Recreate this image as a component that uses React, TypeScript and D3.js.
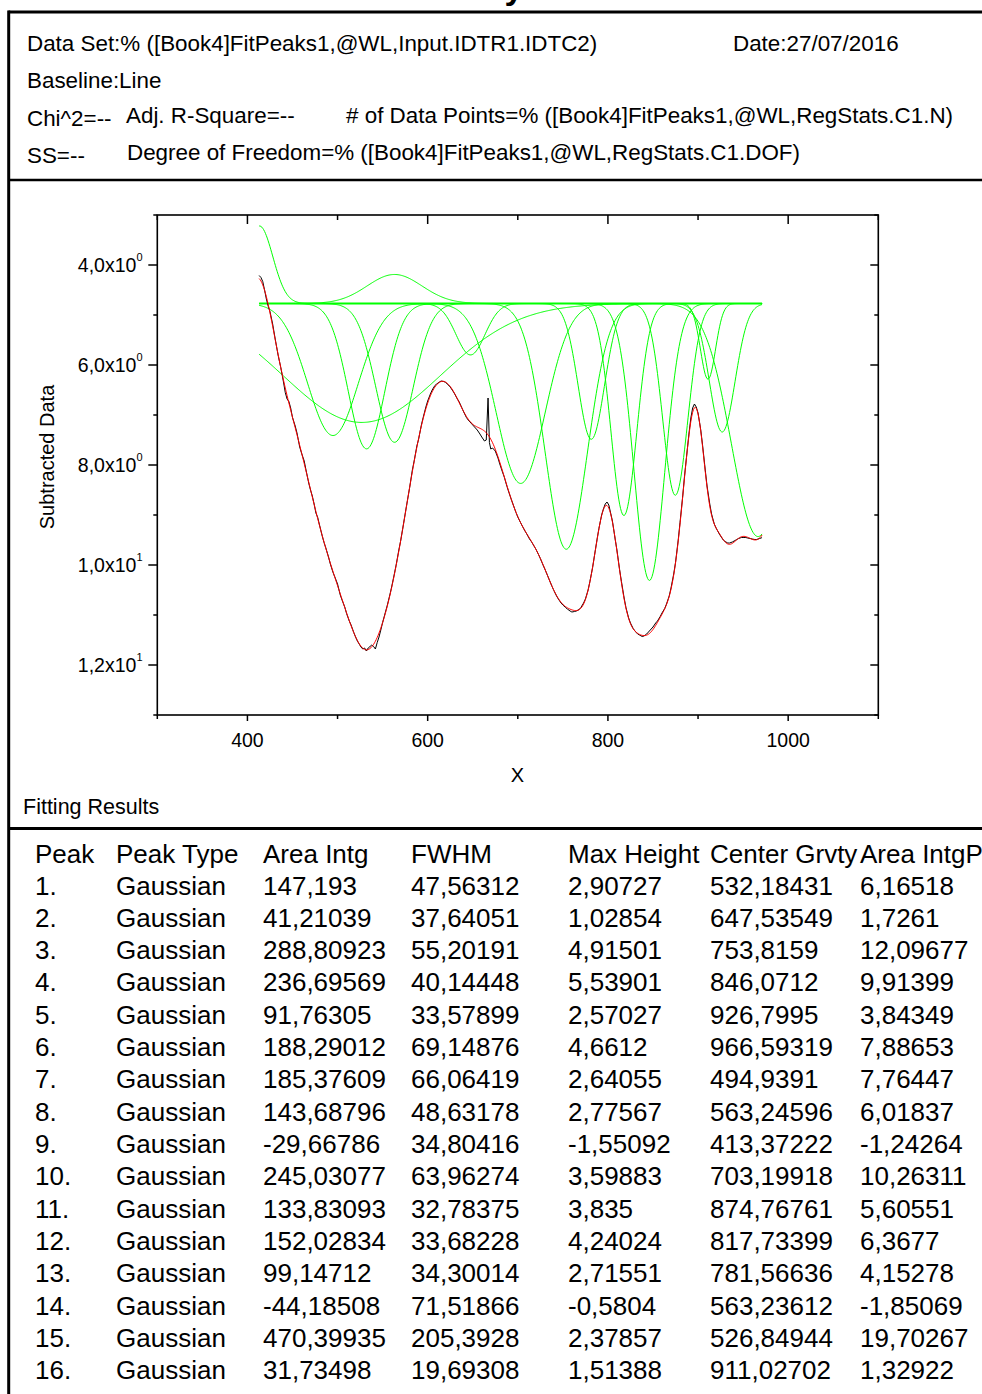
import React from "react";
import * as d3 from "d3";

const peakLabels = ["1.", "2.", "3.", "4.", "5.", "6.", "7.", "8.", "9.", "10.", "11.", "12.", "13.", "14.", "15.", "16."];
const peakTypes = ["Gaussian", "Gaussian", "Gaussian", "Gaussian", "Gaussian", "Gaussian", "Gaussian", "Gaussian", "Gaussian", "Gaussian", "Gaussian", "Gaussian", "Gaussian", "Gaussian", "Gaussian", "Gaussian"];
const areaIntg = [147.193, 41.21039, 288.80923, 236.69569, 91.76305, 188.29012, 185.37609, 143.68796, -29.66786, 245.03077, 133.83093, 152.02834, 99.14712, -44.18508, 470.39935, 31.73498];
const fwhm = [47.56312, 37.64051, 55.20191, 40.14448, 33.57899, 69.14876, 66.06419, 48.63178, 34.80416, 63.96274, 32.78375, 33.68228, 34.30014, 71.51866, 205.3928, 19.69308];
const maxHeight = [2.90727, 1.02854, 4.91501, 5.53901, 2.57027, 4.6612, 2.64055, 2.77567, -1.55092, 3.59883, 3.835, 4.24024, 2.71551, -0.5804, 2.37857, 1.51388];
const centerGrvty = [532.18431, 647.53549, 753.8159, 846.0712, 926.7995, 966.59319, 494.9391, 563.24596, 413.37222, 703.19918, 874.76761, 817.73399, 781.56636, 563.23612, 526.84944, 911.02702];
const areaIntgP = [6.16518, 1.7261, 12.09677, 9.91399, 3.84349, 7.88653, 7.76447, 6.01837, -1.24264, 10.26311, 5.60551, 6.3677, 4.15278, -1.85069, 19.70267, 1.32922];
const tableHeaders = ["Peak", "Peak Type", "Area Intg", "FWHM", "Max Height", "Center Grvty", "Area IntgP"];

// ---- Fit settings ----
const baselineValue = 4.77;
const dataRange = [413, 971];

const dataX = [413, 415, 417, 419, 421, 423, 425, 428, 431, 434, 437, 440, 442, 444, 446, 448, 450, 453, 455, 458, 460, 463, 465, 468, 470, 472, 474, 476, 478, 480, 483, 485, 487, 490, 492, 495, 497, 500, 503, 505, 508, 510, 513, 515, 518, 520, 522, 524, 526, 528, 530, 532, 534, 536, 538, 540, 542, 544, 546, 548, 550, 553, 555, 558, 560, 563, 565, 568, 570, 573, 575, 578, 580, 583, 585, 588, 590, 593, 595, 598, 600, 603, 605, 608, 610, 613, 615, 618, 620, 623, 625, 628, 630, 633, 635, 638, 640, 643, 645, 648, 650, 653, 655, 658, 660, 663, 665, 667, 668.5, 670, 672, 675, 678, 680, 683, 685, 688, 690, 693, 695, 698, 700, 703, 705, 708, 710, 713, 715, 718, 720, 723, 725, 728, 730, 733, 735, 738, 740, 743, 745, 748, 750, 753, 755, 758, 760, 763, 765, 768, 770, 773, 775, 778, 780, 783, 785, 788, 790, 793, 795, 797, 799, 801, 803, 805, 808, 810, 813, 815, 818, 820, 823, 825, 828, 830, 833, 835, 838, 840, 843, 845, 848, 850, 853, 855, 858, 860, 863, 865, 868, 870, 873, 875, 878, 880, 883, 885, 888, 890, 892, 894, 896, 898, 900, 903, 905, 908, 910, 913, 915, 918, 920, 923, 925, 928, 930, 933, 935, 938, 940, 943, 945, 948, 950, 953, 955, 958, 960, 963, 965, 968, 970, 971];
const dataY = [4.21, 4.25, 4.33, 4.50, 4.68, 4.82, 4.93, 5.18, 5.50, 5.80, 6.05, 6.34, 6.55, 6.68, 6.73, 6.86, 7.05, 7.22, 7.36, 7.64, 7.76, 7.92, 8.10, 8.36, 8.50, 8.62, 8.78, 8.96, 9.05, 9.20, 9.42, 9.55, 9.66, 9.84, 9.98, 10.15, 10.24, 10.38, 10.60, 10.70, 10.84, 10.97, 11.12, 11.20, 11.35, 11.44, 11.52, 11.58, 11.64, 11.68, 11.66, 11.72, 11.66, 11.63, 11.60, 11.63, 11.68, 11.55, 11.44, 11.30, 11.15, 10.95, 10.82, 10.60, 10.44, 10.18, 10.00, 9.70, 9.52, 9.20, 8.98, 8.66, 8.45, 8.10, 7.92, 7.62, 7.48, 7.20, 7.05, 6.84, 6.72, 6.58, 6.50, 6.41, 6.38, 6.34, 6.32, 6.33, 6.35, 6.40, 6.44, 6.52, 6.58, 6.68, 6.74, 6.86, 6.94, 7.05, 7.10, 7.16, 7.20, 7.26, 7.30, 7.38, 7.44, 7.52, 7.50, 6.66, 7.55, 7.68, 7.66, 7.72, 7.86, 7.98, 8.14, 8.24, 8.43, 8.54, 8.70, 8.80, 8.95, 9.04, 9.15, 9.22, 9.32, 9.38, 9.48, 9.53, 9.62, 9.68, 9.79, 9.87, 10.00, 10.08, 10.21, 10.30, 10.43, 10.51, 10.62, 10.68, 10.76, 10.80, 10.85, 10.88, 10.92, 10.94, 10.93, 10.92, 10.89, 10.85, 10.76, 10.68, 10.50, 10.33, 10.05, 9.82, 9.48, 9.27, 9.00, 8.88, 8.78, 8.74, 8.80, 8.96, 9.12, 9.48, 9.70, 10.10, 10.33, 10.66, 10.85, 11.06, 11.16, 11.27, 11.32, 11.38, 11.40, 11.43, 11.42, 11.38, 11.34, 11.28, 11.24, 11.16, 11.12, 11.03, 10.96, 10.87, 10.78, 10.62, 10.46, 10.18, 9.95, 9.50, 9.15, 8.62, 8.22, 7.70, 7.36, 7.06, 6.86, 6.78, 6.84, 6.96, 7.30, 7.60, 8.10, 8.42, 8.78, 8.98, 9.18, 9.26, 9.36, 9.42, 9.50, 9.53, 9.56, 9.56, 9.54, 9.52, 9.49, 9.47, 9.45, 9.45, 9.45, 9.46, 9.47, 9.48, 9.49, 9.49, 9.47, 9.46, 9.45];

// ---- Axis ticks ----
const xMajorTicks = [400, 600, 800, 1000];
const xMinorTicks = [300, 500, 700, 900, 1100];
const yMajorTicks = [4, 6, 8, 10, 12];
const yMinorTicks = [3, 5, 7, 9, 11, 13];
const yTickMantissa = ["4,0", "6,0", "8,0", "1,0", "1,2"];
const yTickExponent = ["0", "0", "0", "1", "1"];

const FONT = "'Liberation Sans', Arial, Helvetica, sans-serif";
const W = 982;
const H = 1394;

const gauss = (xv: number, i: number) =>
  maxHeight[i] * Math.exp((-4 * Math.LN2 * (xv - centerGrvty[i]) ** 2) / fwhm[i] ** 2);

export default function App() {
  const x = d3.scaleLinear().domain([300, 1100]).range([157.3, 878.3]);
  const y = d3.scaleLinear().domain([3, 13]).range([215, 715]);
  const xs = d3.range(dataRange[0], dataRange[1] + 0.01, 1);
  const line = d3.line<[number, number]>().x((d) => x(d[0])).y((d) => y(d[1]));

  const peakPaths = centerGrvty.map((_, i) => line(xs.map((xv) => [xv, baselineValue + gauss(xv, i)])) || "");
  const fitPath = line(xs.map((xv) => [xv, baselineValue + centerGrvty.reduce((s, _, i) => s + gauss(xv, i), 0)])) || "";
  const basePath = line(xs.map((xv) => [xv, baselineValue])) || "";
  const dataPath = line(dataX.map((xv, i) => [xv, dataY[i]])) || "";

  const fmt = (v: number) => String(v).replace(".", ",");
  const colX = [35, 116, 263, 411, 568, 710, 860];
  const rows = peakLabels.map((p, i) => [p, peakTypes[i], fmt(areaIntg[i]), fmt(fwhm[i]), fmt(maxHeight[i]), fmt(centerGrvty[i]), fmt(areaIntgP[i])]);

  const [x0, x1] = x.range();
  const [y0, y1] = y.range();

  return (
    <div style={{ position: "absolute", left: 0, top: 0, width: W, height: H, background: "#fff" }}>
      <svg width={W} height={H} style={{ display: "block" }} fontFamily={FONT}>
        <rect x={0} y={0} width={W} height={H} fill="#fff" />
        {/* title (cut off at top of the page) */}
        <text x={457} y={-1} textAnchor="middle" fontSize={34} fontWeight="bold">Peak Analysis</text>
        {/* frame lines */}
        <line x1={8.5} x2={W} y1={12} y2={12} stroke="#000" strokeWidth={3} />
        <line x1={8.7} x2={8.7} y1={10.5} y2={H} stroke="#000" strokeWidth={3} />
        <line x1={8.5} x2={W} y1={180} y2={180} stroke="#000" strokeWidth={2.5} />
        <line x1={8.5} x2={W} y1={828.5} y2={828.5} stroke="#000" strokeWidth={3} />

        {/* header texts */}
        <g fontSize={22.4} fill="#000">
          <text x={27} y={51}>Data Set:% ([Book4]FitPeaks1,@WL,Input.IDTR1.IDTC2)</text>
          <text x={733} y={51}>Date:27/07/2016</text>
          <text x={27} y={88}>Baseline:Line</text>
          <text x={27} y={126}>Chi^2=--</text>
          <text x={126} y={123}>Adj. R-Square=--</text>
          <text x={346} y={123}># of Data Points=% ([Book4]FitPeaks1,@WL,RegStats.C1.N)</text>
          <text x={27} y={163}>SS=--</text>
          <text x={127} y={160}>Degree of Freedom=% ([Book4]FitPeaks1,@WL,RegStats.C1.DOF)</text>
        </g>

        {/* plot */}
        <defs>
          <clipPath id="plotclip">
            <rect x={x0} y={y0} width={x1 - x0} height={y1 - y0} />
          </clipPath>
        </defs>
        <g clipPath="url(#plotclip)" fill="none">
          <path d={basePath} stroke="#00ff00" strokeWidth={2} />
          {peakPaths.map((d, i) => (
            <path key={i} d={d} stroke="#00ff00" strokeWidth={1} />
          ))}
          <path d={dataPath} stroke="#000" strokeWidth={1} />
          <path d={fitPath} stroke="#ff0000" strokeWidth={1} />
        </g>
        <rect x={x0} y={y0} width={x1 - x0} height={y1 - y0} fill="none" stroke="#000" strokeWidth={1.6} />
        {/* x ticks */}
        {xMajorTicks.map((t) => (
          <g key={"xm" + t}>
            <line x1={x(t)} x2={x(t)} y1={y1} y2={y1 + 6} stroke="#000" strokeWidth={1.5} />
            <line x1={x(t)} x2={x(t)} y1={y0} y2={y0 + 9} stroke="#000" strokeWidth={1.5} />
            <text x={x(t)} y={747} textAnchor="middle" fontSize={19.5}>{t}</text>
          </g>
        ))}
        {xMinorTicks.map((t) => (
          <g key={"xn" + t}>
            <line x1={x(t)} x2={x(t)} y1={y1} y2={y1 + 4} stroke="#000" strokeWidth={1.5} />
            <line x1={x(t)} x2={x(t)} y1={y0} y2={y0 + 5} stroke="#000" strokeWidth={1.5} />
          </g>
        ))}
        {yMajorTicks.map((t, i) => (
          <g key={"ym" + t}>
            <line x1={x0 - 9} x2={x0} y1={y(t)} y2={y(t)} stroke="#000" strokeWidth={1.5} />
            <line x1={x1 - 8} x2={x1} y1={y(t)} y2={y(t)} stroke="#000" strokeWidth={1.5} />
            <text x={142.5} y={y(t) + 7} textAnchor="end" fontSize={19.5}>
              {yTickMantissa[i]}x10
              <tspan dy={-11} fontSize={11}>{yTickExponent[i]}</tspan>
            </text>
          </g>
        ))}
        {yMinorTicks.map((t) => (
          <g key={"yn" + t}>
            <line x1={x0 - 4} x2={x0} y1={y(t)} y2={y(t)} stroke="#000" strokeWidth={1.5} />
            <line x1={x1 - 4} x2={x1} y1={y(t)} y2={y(t)} stroke="#000" strokeWidth={1.5} />
          </g>
        ))}
        <text x={517.5} y={782} textAnchor="middle" fontSize={20}>X</text>
        <text transform="translate(54,457) rotate(-90)" textAnchor="middle" fontSize={20}>Subtracted Data</text>
        <text x={23} y={813.5} fontSize={21.5}>Fitting Results</text>

        {/* table */}
        <g fontSize={26}>
          {tableHeaders.map((h, j) => (
            <text key={h} x={colX[j]} y={862.5}>{h}</text>
          ))}
          {rows.map((r, i) =>
            r.map((c, j) => (
              <text key={i + "-" + j} x={colX[j]} y={894.5 + i * 32.33}>{c}</text>
            ))
          )}
        </g>
      </svg>
    </div>
  );
}
